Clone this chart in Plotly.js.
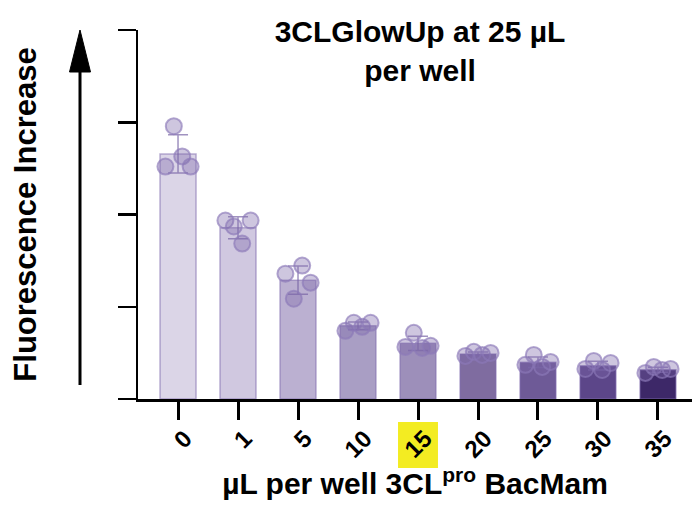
<!DOCTYPE html>
<html>
<head>
<meta charset="utf-8">
<script src="https://cdn.plot.ly/plotly-3.0.1.min.js"></script>
<style>html,body{margin:0;padding:0;background:#fff;}#chart{width:692px;height:513px;}</style>
</head>
<body>
<div id="chart"></div>
<script>
// ---- data ----
const categories = ['0', '1', '5', '10', '15', '20', '25', '30', '35'];
const rep1 = [2.52, 1.935, 1.359, 0.739, 0.565, 0.467, 0.370, 0.326, 0.283];
const rep2 = [2.957, 1.870, 1.087, 0.826, 0.717, 0.511, 0.478, 0.413, 0.348];
const rep3 = [2.63, 1.685, 1.446, 0.783, 0.554, 0.478, 0.348, 0.315, 0.315];
const rep4 = [2.52, 1.935, 1.261, 0.826, 0.576, 0.500, 0.402, 0.391, 0.326];
const highlighted = '15';

// ---- styles ----
const barColors = ['#dbd5e7', '#d0c8e0', '#bbb0d1', '#a99ec4', '#9d8fba', '#7f6ca0', '#6e5a97', '#5c4689', '#3d2868'];
const FONT = 'Liberation Sans, Arial, Helvetica, sans-serif';

// ---- geometry helpers (plot area in px) ----
const L = 138, R = 692, T = 30, B = 399, W = R - L, H = B - T;
const px = x => (x - L) / W;
const py = y => (B - y) / H;

const reps = [rep1, rep2, rep3, rep4];
const idx = categories.map((_, i) => i);
const means = idx.map(i => reps.reduce((s, r) => s + r[i], 0) / reps.length);
const sds = idx.map(i => {
  const m = means[i];
  return Math.sqrt(reps.reduce((s, r) => s + (r[i] - m) ** 2, 0) / (reps.length - 1));
});

const traces = [{
  type: 'bar', x: idx, y: means, width: 0.6,
  marker: { color: barColors, line: { color: 'rgba(130,110,175,0.55)', width: 1.5 } },
  error_y: { type: 'data', array: sds, visible: true, color: 'rgba(120,100,165,0.7)', thickness: 1.5, width: 10 },
  hoverinfo: 'skip'
}];
reps.forEach((r, k) => {
  const off = (k - 1.5) * 0.14;
  traces.push({
    type: 'scatter', mode: 'markers', x: idx.map(i => i + off), y: r,
    marker: { size: 16, color: 'rgba(125,105,170,0.38)', line: { color: 'rgba(140,122,185,0.65)', width: 2 } },
    hoverinfo: 'skip'
  });
});

const hi = categories.indexOf(highlighted);

const layout = {
  width: 692, height: 513,
  margin: { l: L, r: 692 - R, t: T, b: 513 - B },
  paper_bgcolor: '#fff', plot_bgcolor: '#fff',
  showlegend: false,
  font: { family: FONT, color: '#000' },
  title: {
    text: '<b>3CLGlowUp at 25 µL<br>per well</b>',
    font: { family: FONT, size: 30, color: '#000' },
    xref: 'paper', x: px(420), xanchor: 'center',
    yref: 'container', y: 1 - 42 / 513, yanchor: 'middle'
  },
  xaxis: {
    range: [-0.667, 8.567], tickmode: 'array', tickvals: idx, ticktext: categories.map(c => '<b>' + c + '</b>'),
    tickangle: -45, ticks: 'outside', ticklen: 18, tickwidth: 3, tickcolor: '#000',
    ticklabelshift: 7, ticklabelstandoff: -5,
    tickfont: { family: FONT, size: 24, color: '#000' },
    showline: true, linecolor: '#000', linewidth: 3, showgrid: false, zeroline: false, fixedrange: true,
    title: { text: '<b>µL per well 3CL<sup>pro</sup> BacMam</b>', font: { family: FONT, size: 30, color: '#000' }, standoff: 12 }
  },
  yaxis: {
    range: [0, 4], tickvals: [0, 1, 2, 3, 4], showticklabels: false,
    ticks: 'outside', ticklen: 18, tickwidth: 2.5, tickcolor: '#000',
    showline: true, linecolor: '#000', linewidth: 2.5, showgrid: false, zeroline: false, fixedrange: true,
    title: { text: '<b>Fluorescence Increase</b>', font: { family: FONT, size: 31, color: '#000' }, standoff: 72 }
  },
  shapes: [
    { type: 'rect', xref: 'x', yref: 'paper', x0: hi - 0.333, x1: hi + 0.333, y0: py(468), y1: py(422),
      fillcolor: '#f3ec22', line: { width: 0 }, layer: 'below' },
    { type: 'line', xref: 'paper', yref: 'paper', x0: px(80), x1: px(80), y0: py(385), y1: py(66),
      line: { color: '#000', width: 3 } },
    { type: 'path', xref: 'paper', yref: 'paper',
      path: `M ${px(80)} ${py(30)} L ${px(69.5)} ${py(72)} L ${px(90.5)} ${py(72)} Z`,
      fillcolor: '#000', line: { color: '#000', width: 1 } }
  ]
};

Plotly.newPlot('chart', traces, layout, { staticPlot: true, displayModeBar: false });
</script>
</body>
</html>
